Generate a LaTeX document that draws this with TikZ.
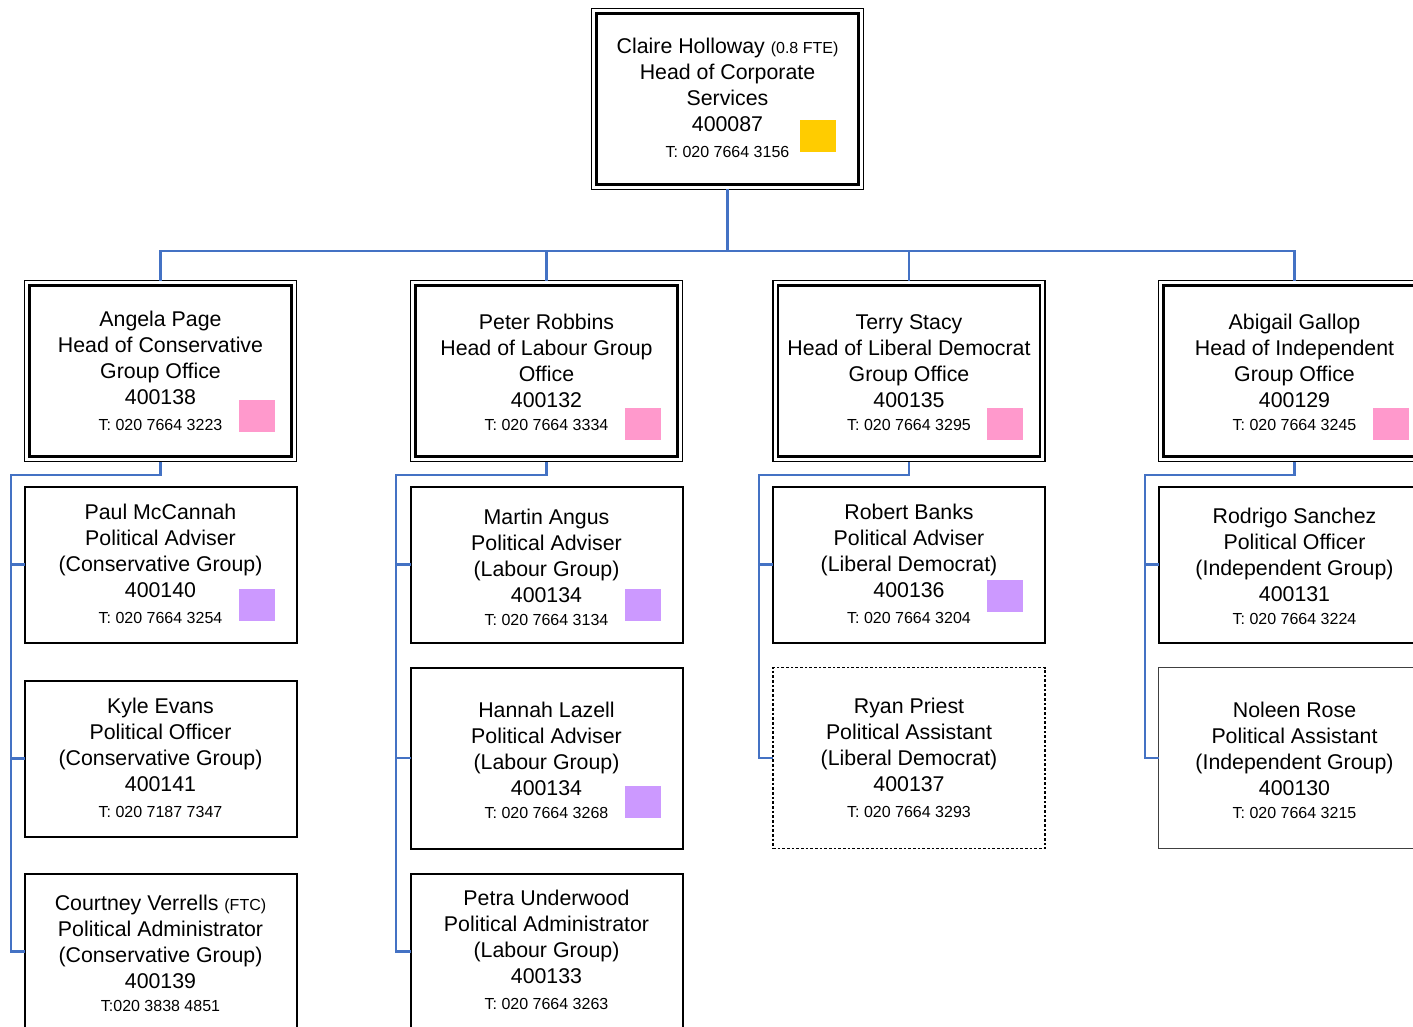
\documentclass[tikz,border=0pt]{standalone}
\usepackage{fontspec}
\setmainfont{Liberation Sans}
\definecolor{cblue}{HTML}{4472C4}
\definecolor{cyel}{HTML}{FFCC00}
\definecolor{cpink}{HTML}{FF99CC}
\definecolor{clav}{HTML}{CC99FF}
\newcommand{\ph}[1]{{\fontsize{12}{14}\selectfont #1}}
\newcommand{\innerbox}[1]{\draw[line width=1.9pt] ([shift={(5,5)}]#1.north west) rectangle ([shift={(-5,-5)}]#1.south east);}
\begin{document}
\begin{tikzpicture}[x=0.75pt,y=-0.75pt,
  boxbase/.style={inner sep=0pt, outer sep=0pt, minimum width=204pt},
  tallbox/.style={boxbase, draw, line width=1.4pt, minimum height=135.75pt},
  midbox/.style={boxbase, draw, line width=1.5pt, minimum height=135.75pt},
  lowbox/.style={boxbase, draw, line width=1.5pt, minimum height=117pt},
  dotbox/.style={boxbase, draw, line width=1.1pt, dash pattern=on 2pt off 1.5pt, minimum height=135.75pt},
  greybox/.style={boxbase, draw=black!75, line width=0.7pt, minimum height=135.75pt},
  txt/.style={align=center, inner sep=0pt, font=\fontsize{16}{19.5}\selectfont},
  cn/.style={draw=cblue, line width=1.6pt}
]
\useasboundingbox (0,0) rectangle (1413,1027);
\clip (0,0) rectangle (1413,1027);

% ---- top
\node[tallbox] (top) at (727.5,99) {};
\innerbox{top}
\node[txt] (topt) at (727.5,97.5) {Claire Holloway \ph{(0.8 FTE)}\\Head of Corporate\\Services\\400087\\\ph{T: 020 7664 3156}};
\fill[cyel] (800,120) rectangle (836,152);

% ---- level 2
\node[tallbox] (ang) at (160.5,371) {};
\innerbox{ang}
\node[txt] (angt) at (160.5,371) {Angela Page\\Head of Conservative\\Group Office\\400138\\\ph{T: 020 7664 3223}};
\fill[cpink] (239,400) rectangle (275,432);

\node[tallbox] (pet) at (546.5,371) {};
\innerbox{pet}
\node[txt] (pett) at (546.5,372.5) {Peter Robbins\\Head of Labour Group\\Office\\400132\\[-2.25pt]\ph{T: 020 7664 3334}};
\fill[cpink] (625,408) rectangle (661,440);

\node[tallbox] (ter) at (909,371) {};
\innerbox{ter}
\node[txt] (tert) at (909,372.5) {Terry Stacy\\Head of Liberal Democrat\\Group Office\\400135\\[-2.25pt]\ph{T: 020 7664 3295}};
\fill[cpink] (987,408) rectangle (1023,440);

\node[tallbox] (abi) at (1294.5,371) {};
\innerbox{abi}
\node[txt] (abit) at (1294.5,372.5) {Abigail Gallop\\Head of Independent\\Group Office\\400129\\[-2.25pt]\ph{T: 020 7664 3245}};
\fill[cpink] (1373,408) rectangle (1409,440);

% ---- Conservative column
\node[lowbox] (pau) at (160.5,564.5) {};
\node[txt] (paut) at (160.5,564) {Paul McCannah\\Political Adviser\\(Conservative Group)\\400140\\\ph{T: 020 7664 3254}};
\fill[clav] (239,589) rectangle (275,621);

\node[lowbox] (kyl) at (160.5,758.5) {};
\node[txt] (kylt) at (160.5,758) {Kyle Evans\\Political Officer\\(Conservative Group)\\400141\\\ph{T: 020 7187 7347}};

\node[lowbox] (cou) at (160.5,951.5) {};
\node[txt] (cout) at (160.5,953) {Courtney Verrells \ph{(FTC)}\\Political Administrator\\(Conservative Group)\\400139\\[-2.25pt]\ph{T:020 3838 4851}};

% ---- Labour column
\node[lowbox] (mar) at (546.5,564.5) {};
\node[txt] (mart) at (546.5,567) {Martin Angus\\Political Adviser\\(Labour Group)\\400134\\[-2.25pt]\ph{T: 020 7664 3134}};
\fill[clav] (625,589) rectangle (661,621);

\node[midbox] (han) at (546.5,758) {};
\node[txt] (hant) at (546.5,760.5) {Hannah Lazell\\Political Adviser\\(Labour Group)\\400134\\[-2.25pt]\ph{T: 020 7664 3268}};
\fill[clav] (625,786) rectangle (661,818);

\node[lowbox] (pta) at (546.5,951.5) {};
\node[txt] (ptat) at (546.5,950) {Petra Underwood\\Political Administrator\\(Labour Group)\\400133\\\ph{T: 020 7664 3263}};

% ---- Liberal Democrat column
\node[lowbox] (rob) at (909,564.5) {};
\node[txt] (robt) at (909,564) {Robert Banks\\Political Adviser\\(Liberal Democrat)\\400136\\\ph{T: 020 7664 3204}};
\fill[clav] (987,580) rectangle (1023,612);

\node[dotbox] (rya) at (909,758) {};
\node[txt] (ryat) at (909,758) {Ryan Priest\\Political Assistant\\(Liberal Democrat)\\400137\\\ph{T: 020 7664 3293}};

% ---- Independent column
\node[lowbox] (rod) at (1294.5,564.5) {};
\node[txt] (rodt) at (1294.5,566) {Rodrigo Sanchez\\Political Officer\\(Independent Group)\\400131\\[-2.25pt]\ph{T: 020 7664 3224}};

\node[greybox] (nol) at (1294.5,758) {};
\node[txt] (nolt) at (1294.5,760.5) {Noleen Rose\\Political Assistant\\(Independent Group)\\400130\\[-2.25pt]\ph{T: 020 7664 3215}};

% ---- connectors
\coordinate (bus) at (727.5,251);
\draw[cn] (top.south) -- (bus);
\draw[cn] (bus) -| (ang.north);
\draw[cn] (bus) -| (pet.north);
\draw[cn] (bus) -| (ter.north);
\draw[cn] (bus) -| (abi.north);

\coordinate (angT) at (11,475);
\draw[cn] (ang.south) |- (angT) |- (cou.west);
\draw[cn] (angT) |- (pau.west);
\draw[cn] (angT) |- (kyl.west);

\coordinate (petT) at (396,475);
\draw[cn] (pet.south) |- (petT) |- (pta.west);
\draw[cn] (petT) |- (mar.west);
\draw[cn] (petT) |- (han.west);

\coordinate (terT) at (759,475);
\draw[cn] (ter.south) |- (terT) |- (rya.west);
\draw[cn] (terT) |- (rob.west);

\coordinate (abiT) at (1145,475);
\draw[cn] (abi.south) |- (abiT) |- (nol.west);
\draw[cn] (abiT) |- (rod.west);
\end{tikzpicture}
\end{document}
